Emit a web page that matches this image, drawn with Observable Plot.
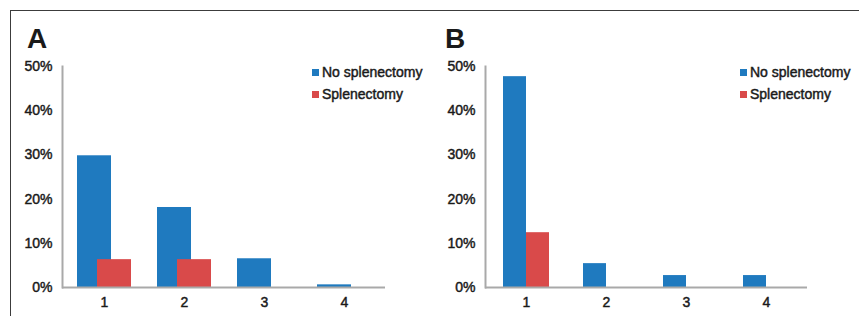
<!DOCTYPE html>
<html>
<head>
<meta charset="utf-8">
<script src="https://cdn.jsdelivr.net/npm/d3@7"></script>
<script src="https://cdn.jsdelivr.net/npm/@observablehq/plot@0.6"></script>
<style>
  html, body { margin: 0; padding: 0; background: #fff; }
  #wrap { position: relative; width: 859px; height: 316px; overflow: hidden; font-family: Arial, "Liberation Sans", sans-serif; color: #1a1a1a; }
  .panel { position: absolute; top: 0; }
  #wrap svg text { stroke: #1a1a1a; stroke-width: 0.45px; }
  .border { position: absolute; left: 10px; top: 10px; width: 849px; height: 306px; border-top: 1px solid #3c3c3c; border-left: 1px solid #3c3c3c; z-index: 5; pointer-events: none; }
  .letter { position: absolute; font-weight: bold; font-size: 28px; line-height: 28px; z-index: 6; }
  .legend { position: absolute; font-size: 14px; line-height: 16px; z-index: 6; white-space: nowrap; -webkit-text-stroke: 0.45px #1a1a1a; }
  .legend .row { height: 22px; display: flex; align-items: flex-start; }
  .legend .sw { display: inline-block; width: 7px; height: 7px; margin: 5px 3px 0 0; }
</style>
</head>
<body>
<div id="wrap">
  <div class="border"></div>
</div>
<script>
// ---- data ----
const categories = ["1", "2", "3", "4"];
const seriesNames = ["No splenectomy", "Splenectomy"];
const seriesColors = ["#1f7abf", "#d94a4a"];
const yTicks = [0, 10, 20, 30, 40, 50];
const panelLabels = ["A", "B"];

// Panel A values (%)
const aNoSplenectomy = [29.8, 18.1, 6.5, 0.6];
const aSplenectomy = [6.3, 6.3, 0, 0];
// Panel B values (%)
const bNoSplenectomy = [47.7, 5.4, 2.7, 2.7];
const bSplenectomy = [12.4, 0, 0, 0];

function rows(noVals, splVals) {
  const out = [];
  categories.forEach((c, i) => {
    out.push({cat: c, series: seriesNames[0], value: noVals[i]});
    out.push({cat: c, series: seriesNames[1], value: splVals[i]});
  });
  return out;
}

function panel(noVals, splVals, o) {
  const data = rows(noVals, splVals);
  return Plot.plot({
    width: o.width,
    height: 316,
    marginLeft: o.marginLeft,
    marginRight: o.marginRight,
    marginTop: 66,
    marginBottom: 29,
    style: {fontFamily: "Arial, 'Liberation Sans', sans-serif", fontSize: "14px", color: "#1a1a1a", background: "transparent"},
    x: {domain: categories, paddingInner: o.paddingInner, paddingOuter: o.paddingOuter, label: null, tickSize: 0, tickPadding: 10},
    y: {domain: [0, 50], ticks: yTicks, tickFormat: d => d + "%", label: null, tickSize: 0, tickPadding: 10},
    marks: [
      Plot.barY(data.filter(d => d.series === seriesNames[0]), {x: "cat", y: "value", fill: seriesColors[0], insetRight: o.inset}),
      Plot.barY(data.filter(d => d.series === seriesNames[1] && d.value > 0), {x: "cat", y: "value", fill: seriesColors[1], insetLeft: o.inset}),
      Plot.ruleY([0], {stroke: "#a9a9a9", strokeWidth: 2}),
      Plot.frame({anchor: "left", stroke: "#a9a9a9", strokeWidth: 2})
    ]
  });
}

const wrap = document.getElementById("wrap");

function addPanel(svg, left, letter, letterLeft, legendLeft) {
  const d = document.createElement("div");
  d.className = "panel";
  d.style.left = left + "px";
  d.appendChild(svg);
  wrap.appendChild(d);

  const l = document.createElement("div");
  l.className = "letter";
  l.style.left = letterLeft + "px";
  l.style.top = "25px";
  l.textContent = letter;
  wrap.appendChild(l);

  const lg = document.createElement("div");
  lg.className = "legend";
  lg.style.left = legendLeft + "px";
  lg.style.top = "64px";
  seriesNames.forEach((name, i) => {
    const r = document.createElement("div");
    r.className = "row";
    const sw = document.createElement("span");
    sw.className = "sw";
    sw.style.background = seriesColors[i];
    const t = document.createElement("span");
    t.textContent = name;
    r.appendChild(sw);
    r.appendChild(t);
    lg.appendChild(r);
  });
  wrap.appendChild(lg);
}

addPanel(panel(aNoSplenectomy, aSplenectomy, {width: 430, marginLeft: 62, marginRight: 45, paddingInner: 0.328, paddingOuter: 0.17, inset: 20}), 0, panelLabels[0], 27, 312);
addPanel(panel(bNoSplenectomy, bSplenectomy, {width: 429, marginLeft: 55, marginRight: 52, paddingInner: 0.427, paddingOuter: 0.218, inset: 23}), 430, panelLabels[1], 445, 740);
</script>
</body>
</html>
